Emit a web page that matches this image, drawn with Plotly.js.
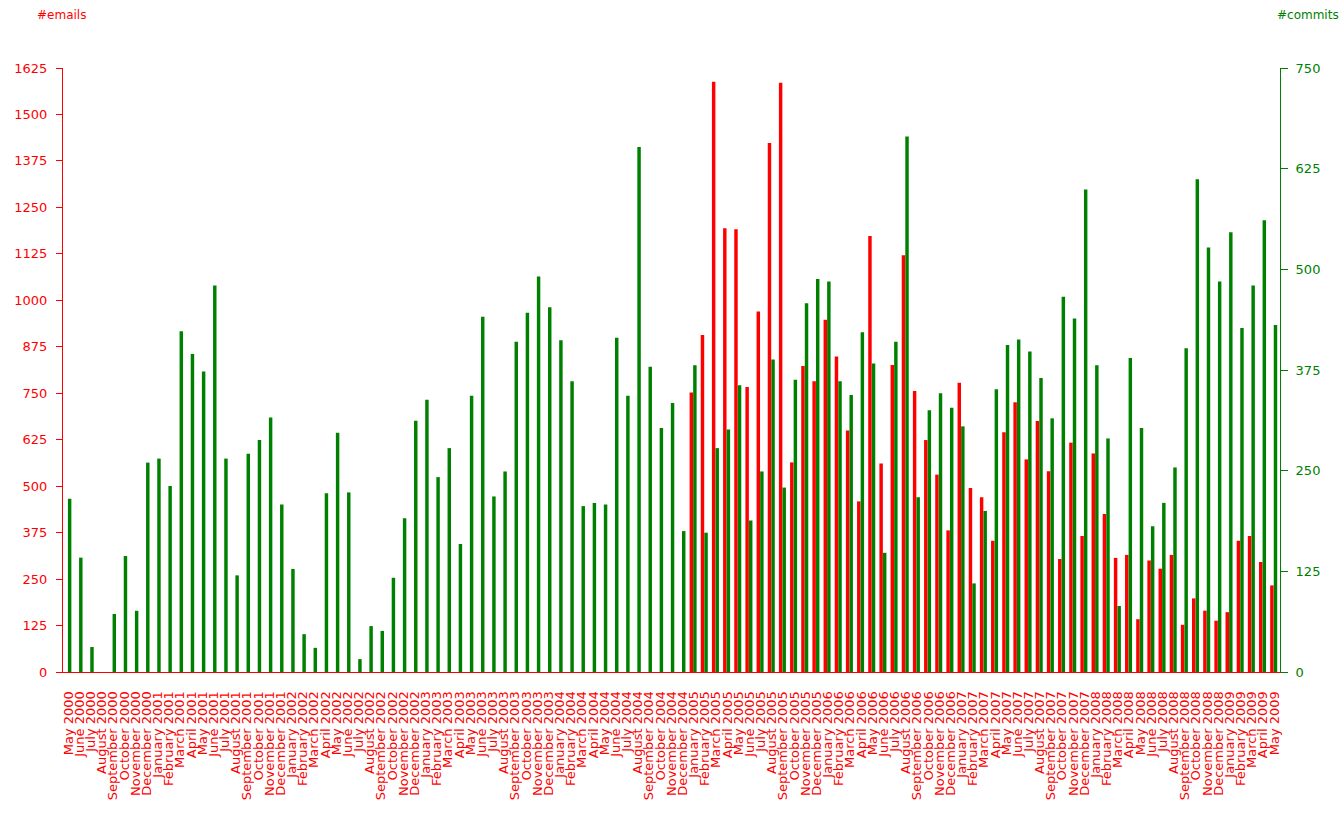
<!DOCTYPE html>
<html>
<head>
<meta charset="utf-8">
<script src="https://cdn.plot.ly/plotly-3.0.1.min.js"></script>
<style>html,body{margin:0;padding:0;background:#fff;}#chart{width:1344px;height:830px;}</style>
</head>
<body>
<div id="chart"></div>
<script>
const months = [
"May 2000","June 2000","July 2000","August 2000","September 2000","October 2000","November 2000","December 2000",
"January 2001","February 2001","March 2001","April 2001","May 2001","June 2001","July 2001","August 2001","September 2001","October 2001","November 2001","December 2001",
"January 2002","February 2002","March 2002","April 2002","May 2002","June 2002","July 2002","August 2002","September 2002","October 2002","November 2002","December 2002",
"January 2003","February 2003","March 2003","April 2003","May 2003","June 2003","July 2003","August 2003","September 2003","October 2003","November 2003","December 2003",
"January 2004","February 2004","March 2004","April 2004","May 2004","June 2004","July 2004","August 2004","September 2004","October 2004","November 2004","December 2004",
"January 2005","February 2005","March 2005","April 2005","May 2005","June 2005","July 2005","August 2005","September 2005","October 2005","November 2005","December 2005",
"January 2006","February 2006","March 2006","April 2006","May 2006","June 2006","July 2006","August 2006","September 2006","October 2006","November 2006","December 2006",
"January 2007","February 2007","March 2007","April 2007","May 2007","June 2007","July 2007","August 2007","September 2007","October 2007","November 2007","December 2007",
"January 2008","February 2008","March 2008","April 2008","May 2008","June 2008","July 2008","August 2008","September 2008","October 2008","November 2008","December 2008",
"January 2009","February 2009","March 2009","April 2009","May 2009"
];

const emails = [
0,0,0,0,0,0,0,0,
0,0,0,0,0,0,0,0,0,0,0,0,
0,0,0,0,0,0,0,0,0,0,0,0,
0,0,0,0,0,0,0,0,0,0,0,0,
0,0,0,0,0,0,0,0,0,0,0,0,
752,907,1588,1194,1191,767,970,1423,1585,564,823,782,
948,849,650,459,1173,561,826,1121,756,624,531,381,
778,495,470,353,645,726,572,675,540,304,617,366,
588,425,307,315,142,300,278,315,127,198,165,138,
161,353,366,296,233
];

const commits = [
215,142,31,0,72,144,76,260,
265,231,423,395,373,480,265,120,271,288,316,208,
128,47,30,222,297,223,16,57,51,117,191,312,
338,242,278,159,343,441,218,249,410,446,491,453,
412,361,206,210,208,415,343,652,379,303,334,175,
381,173,278,301,356,188,249,388,229,363,458,488,
485,361,344,422,383,148,410,665,217,325,346,328,
305,110,200,351,406,413,398,365,315,466,439,599,
381,290,82,390,303,181,210,254,402,612,527,485,
546,427,480,561,431
];

const emailTicks = [0,125,250,375,500,625,750,875,1000,1125,1250,1375,1500,1625];
const commitTicks = [0,125,250,375,500,625,750];

const RED = "#ff0000";
const GREEN = "#008000";
const FONT = "DejaVu Sans, Verdana, sans-serif";

const traces = [
  {
    type: "bar", name: "#emails", x: months, y: emails, yaxis: "y",
    marker: {color: RED, line: {width: 0}},
    width: 0.31, offset: -0.38, hoverinfo: "x+y"
  },
  {
    type: "bar", name: "#commits", x: months, y: commits, yaxis: "y2",
    marker: {color: GREEN, line: {width: 0}},
    width: 0.31, offset: -0.06, hoverinfo: "x+y"
  }
];

const layout = {
  width: 1344, height: 830,
  margin: {l: 63, r: 64, t: 68, b: 158, pad: 0},
  paper_bgcolor: "#ffffff", plot_bgcolor: "#ffffff",
  showlegend: false,
  barmode: "overlay",
  font: {family: FONT, size: 13, color: RED},
  xaxis: {
    type: "category",
    tickmode: "linear", tick0: 0, dtick: 1,
    tickangle: -90,
    ticks: "", ticklabelstandoff: 13,
    tickfont: {family: FONT, size: 13, color: RED},
    showline: true, linecolor: RED, linewidth: 1,
    showgrid: false, zeroline: false,
    range: [-0.5, months.length - 0.5]
  },
  yaxis: {
    range: [0, 1625],
    tickmode: "array", tickvals: emailTicks, ticktext: emailTicks.map(String),
    ticks: "outside", ticklen: 6, tickcolor: RED, tickwidth: 1,
    ticklabelstandoff: 6,
    tickfont: {family: FONT, size: 13, color: RED},
    showline: true, linecolor: RED, linewidth: 1,
    showgrid: false, zeroline: false
  },
  yaxis2: {
    overlaying: "y", side: "right",
    range: [0, 750],
    tickmode: "array", tickvals: commitTicks, ticktext: commitTicks.map(String),
    ticks: "outside", ticklen: 7, tickcolor: GREEN, tickwidth: 1,
    ticklabelstandoff: 5,
    tickfont: {family: FONT, size: 13, color: GREEN},
    showline: true, linecolor: GREEN, linewidth: 1,
    showgrid: false, zeroline: false
  },
  annotations: [
    {text: "#emails", xref: "paper", yref: "paper", x: -0.023, y: 1.088,
     xanchor: "left", yanchor: "middle", showarrow: false,
     font: {family: FONT, size: 12, color: RED}},
    {text: "#commits", xref: "paper", yref: "paper", x: 1.0505, y: 1.088,
     xanchor: "right", yanchor: "middle", showarrow: false,
     font: {family: FONT, size: 12, color: GREEN}}
  ]
};

Plotly.newPlot("chart", traces, layout, {displayModeBar: false, staticPlot: true});
</script>
</body>
</html>
